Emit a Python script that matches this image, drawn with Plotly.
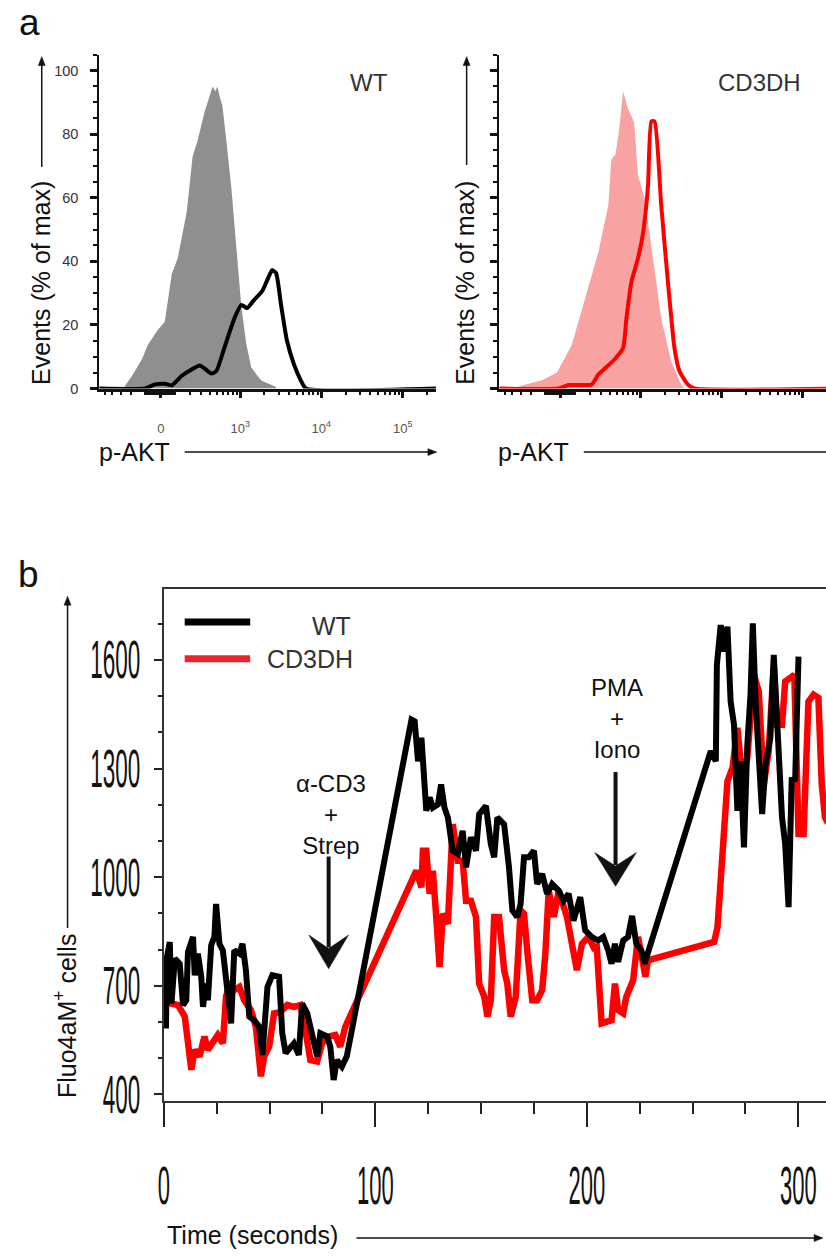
import numpy as np
import plotly.graph_objects as go

W, H = 826, 1259

# ---------------- Panel a : p-AKT histograms (intensity, % of max) ----------------
wt_iso_int = [-275, -194, -120, -80, -18, 24, 67, 106, 171, 219, 265, 337, 398, 437,
              478, 507, 556, 591, 665, 772, 895, 1029, 1190, 1372, 1819, 2782]
wt_iso_pct = [0, 4, 9.2, 13.8, 18.5, 21, 36, 41, 55.6, 73, 78, 87, 92, 95,
              93.5, 95, 91, 89, 78, 63, 44, 26, 14, 6.6, 2.5, 0.5]

wt_stim_int = [-600, -99, -36, 24, 67, 134, 211, 285, 337, 419, 492, 627, 841, 1029,
               1220, 1492, 1872, 2157, 2482, 2782, 3201, 3788, 4616, 5615, 6460, 262000]
wt_stim_pct = [0, 0, 1.3, 1.5, 1.0, 4, 6, 7.2, 6.3, 4.7, 5.5, 12.8, 22, 26.3,
               25.3, 27.9, 30.6, 34, 37.2, 36.3, 26.3, 15, 7.6, 2.5, 0, 0]

cd3dh_iso_int = [-400, -252, -120, -24, 67, 158, 272, 381, 419, 478, 529, 603, 700,
                 772, 835, 935, 1132, 1438, 1819, 2414, 3201, 3515]
cd3dh_iso_pct = [0, 1.3, 2.6, 5, 13.8, 28.4, 43, 57.6, 72, 73.7, 80.6, 93.5, 87.8,
                 85.7, 83.7, 67, 59.7, 41, 22, 8.6, 1.3, 0]

cd3dh_stim_int = [-600, -14, 47, 211, 272, 340, 467, 603, 665, 772, 935, 1082, 1247,
                  1372, 1506, 1819, 2200, 2649, 3050, 3862, 4650, 262000]
cd3dh_stim_pct = [0, 0, 1.1, 1.3, 4.5, 6.3, 9.2, 12.8, 22, 33.6, 41, 49, 63.8,
                  84, 84, 57.6, 33.6, 12.8, 5.5, 1.3, 0, 0]

pakt_major = [0, 1e3, 1e4, 1e5]
pakt_major_text = ["0", "10<sup>3</sup>", "10<sup>4</sup>", "10<sup>5</sup>"]
pakt_minor = ([-500, -400, -300, -200, -100] + list(range(-90, 0, 10)) + list(range(10, 100, 10))
              + list(range(200, 1000, 100)) + list(range(2000, 10000, 1000))
              + list(range(20000, 100000, 10000)) + [200000])
pct_ticks = [0, 20, 40, 60, 80, 100]
pct_minor = [5, 10, 15, 25, 30, 35, 45, 50, 55, 65, 70, 75, 85, 90, 95, 105]

# ---------------- Panel b : Fluo4aM+ cells over time ----------------
wt_time = [1.0, 1.5, 2.8, 3.6, 5.2, 7.5, 9.1, 10.6, 11.4, 13.8, 14.6, 16.1, 17.7, 18.5,
           20.0, 20.8, 22.4, 23.9, 24.7, 26.3, 27.9, 29.4, 31.8, 33.3, 35.7, 37.2, 38.8,
           40.4, 42.7, 45.1, 46.6, 49.0, 51.3, 54.5, 56.0, 57.6, 61.5, 63.8, 65.4, 67.8,
           70.1, 72.5, 74.0, 77.2, 78.7, 80.3, 81.8, 84.2, 86.5,
           117.1, 118.6, 120.2, 121.8, 123.3, 124.1, 125.7, 127.2, 129.6, 131.1, 132.7,
           134.3, 136.6, 139.0, 141.3, 142.9, 145.2, 147.6, 149.1, 152.3, 154.6, 156.2,
           157.7, 160.9, 163.2, 164.8, 167.1, 168.7, 170.3, 172.6, 175.0, 176.5, 178.9,
           181.2, 183.6, 186.7, 189.0, 191.4, 193.7, 196.9, 199.2, 202.3,
           205.4, 207.8, 210.1, 211.7, 213.3, 214.8, 217.2, 219.5, 221.4, 223.4, 225.8,
           227.3, 258.6, 261.0, 261.5, 263.3, 264.9, 266.5, 268.0, 269.6, 271.2, 272.7,
           274.3, 275.9, 277.4, 278.5, 279.8, 281.3, 282.9, 284.5, 286.8, 288.4, 289.9,
           292.3, 293.8, 295.4, 296.9, 298.5, 300.1]
wt_fluo = [582, 780, 821, 651, 775, 761, 647, 660, 793, 835, 729, 789, 725, 642,
           706, 660, 812, 835, 926, 816, 798, 725, 596, 798, 789, 816, 743,
           615, 605, 587, 509, 697, 729, 725, 569, 514, 541, 509, 651, 624,
           569, 505, 569, 560, 532, 440, 495, 477, 505,
           1435, 1430, 1320, 1385, 1238, 1183, 1220, 1192, 1201, 1256, 1192,
           1165, 1073, 1064, 1128, 1027, 1110, 1073, 1174, 1197, 1092, 1055,
           1165, 1146, 1027, 908, 890, 926, 1055, 1055, 1073, 981, 1009,
           954, 981, 963, 935, 954, 880, 945, 853, 835,
           825, 835, 798, 761, 816, 766, 825, 835, 893, 816, 798,
           761, 1348, 1320, 1586, 1696, 1623, 1692, 1485, 1421, 1183, 1320,
           1082, 1366, 1504, 1701, 1485, 1348, 1174, 1311, 1385, 1614, 1440,
           1165, 1092, 917, 1275, 1265, 1609]

cd3dh_time = [1.3, 3.6, 6.7, 9.9, 13.0, 14.6, 16.9, 19.2, 20.8, 23.2, 25.5, 27.9, 29.4,
              31.0, 33.3, 35.7, 38.0, 41.2, 43.5, 45.9, 47.4, 49.8, 52.1, 55.2, 58.4,
              61.5, 64.6, 66.9, 69.3, 72.5, 74.8, 77.9, 81.1, 83.4, 85.8,
              119.4, 121.8, 122.5, 124.1, 125.7, 127.2, 128.8, 130.4, 131.9, 134.3,
              136.6, 139.0, 141.3, 142.9, 145.2, 147.6, 149.1, 151.5, 153.0, 154.6,
              156.2, 158.5, 160.9, 162.4, 164.0, 166.4, 168.7, 170.3, 171.8, 174.2,
              176.5, 178.9, 180.4, 182.0, 184.4, 186.7, 190.6, 193.0, 195.3, 197.7,
              200.8, 203.9, 204.6, 207.0, 211.7, 213.3, 214.8, 217.2, 218.7, 221.9,
              224.2, 226.6, 227.7, 228.9, 260.2, 261.8, 263.3, 264.9, 266.5, 268.9,
              271.2, 273.5, 275.9, 279.0, 281.3, 283.7, 286.0, 288.4, 289.9, 292.3,
              293.8, 296.2, 298.1, 300.1, 302.5, 304.8, 307.2, 309.5, 311.1, 312.6, 314.0]
cd3dh_fluo = [706, 651, 647, 615, 468, 523, 505, 560, 523, 541, 564, 541, 670,
              702, 688, 697, 660, 633, 587, 450, 505, 532, 624, 628, 647,
              642, 647, 578, 495, 491, 541, 560, 564, 532, 587,
              1018, 972, 1073, 1073, 954, 1018, 890, 752, 899, 871,
              1146, 1045, 1045, 935, 935, 890, 706, 670, 615, 660,
              890, 890, 743, 706, 615, 670, 908, 899, 798, 660,
              660, 688, 789, 963, 890, 963, 890, 816, 743, 816,
              835, 798, 816, 596, 605, 706, 633, 624, 670, 715,
              835, 761, 725, 770, 821, 862, 999, 1119, 1265, 1302,
              1412, 1275, 1330, 1559, 1513, 1256, 1348, 1586, 1421, 1421,
              1540, 1550, 1559, 1119, 1119, 1485, 1504, 1495, 1256, 1165, 1150]

time_ticks = [0, 100, 200, 300]
time_minor = [25, 50, 75, 125, 150, 175, 225, 250, 275]
fluo_ticks = [400, 700, 1000, 1300, 1600]
fluo_minor = [500, 600, 800, 900, 1100, 1200, 1400, 1500, 1700]


def biex(v):
    """Biexponential-like (asinh) display transform used by the flow cytometry axis."""
    return np.arcsinh(np.asarray(v, dtype=float) / 214.0) / np.log(10)


def fx(p):
    return p / W


def fy(p):
    return 1 - p / H


FONT = "Liberation Sans, Arial, sans-serif"
GREY = "#8f8f8f"
PINK = "#f8a2a2"
RED = "#ff0000"

fig = go.Figure()

# panel a, WT
fig.add_trace(go.Scatter(x=biex(wt_iso_int), y=wt_iso_pct, mode="lines", fill="tozeroy",
                         fillcolor=GREY, line=dict(width=0, color=GREY),
                         xaxis="x", yaxis="y", showlegend=False, hoverinfo="skip"))
fig.add_trace(go.Scatter(x=biex(wt_stim_int), y=wt_stim_pct, mode="lines",
                         line=dict(color="#000000", width=4, shape="spline", smoothing=0.5),
                         xaxis="x", yaxis="y", showlegend=False, hoverinfo="skip"))
# panel a, CD3DH
fig.add_trace(go.Scatter(x=biex(cd3dh_iso_int), y=cd3dh_iso_pct, mode="lines", fill="tozeroy",
                         fillcolor=PINK, line=dict(width=0, color=PINK),
                         xaxis="x2", yaxis="y2", showlegend=False, hoverinfo="skip"))
fig.add_trace(go.Scatter(x=biex(cd3dh_stim_int), y=cd3dh_stim_pct, mode="lines",
                         line=dict(color=RED, width=4, shape="spline", smoothing=0.5),
                         xaxis="x2", yaxis="y2", showlegend=False, hoverinfo="skip"))
# panel b
fig.add_trace(go.Scatter(x=cd3dh_time, y=cd3dh_fluo, mode="lines",
                         line=dict(color=RED, width=6.5), xaxis="x3", yaxis="y3",
                         showlegend=False, hoverinfo="skip"))
fig.add_trace(go.Scatter(x=wt_time, y=wt_fluo, mode="lines",
                         line=dict(color="#000000", width=6), xaxis="x3", yaxis="y3",
                         showlegend=False, hoverinfo="skip"))

xa_flow = dict(showline=True, linecolor="#111", linewidth=2.5, ticks="outside",
               tickmode="array", tickvals=biex(pakt_major).tolist(), ticktext=pakt_major_text,
               ticklen=7, tickwidth=2.5, tickcolor="#111",
               tickfont=dict(family=FONT, size=13, color="#555"), ticklabelstandoff=19,
               minor=dict(tickmode="array", tickvals=biex(pakt_minor).tolist(), ticks="outside",
                          ticklen=4, tickwidth=1.5, tickcolor="#111"),
               showgrid=False, zeroline=False, fixedrange=True)
ya_flow = dict(showline=True, linecolor="#111", linewidth=2, ticks="outside",
               tickmode="array", tickvals=pct_ticks, ticklen=7, tickwidth=3, tickcolor="#111",
               tickfont=dict(family=FONT, size=14.5, color="#333"), ticklabelstandoff=9,
               minor=dict(tickmode="array", tickvals=pct_minor, ticks="outside",
                          ticklen=4, tickwidth=1.5, tickcolor="#111"),
               range=[0, 105], showgrid=False, zeroline=False, fixedrange=True)

fig.update_layout(
    width=W, height=H, margin=dict(l=0, r=0, t=0, b=0),
    paper_bgcolor="white", plot_bgcolor="white", showlegend=False,
    font=dict(family=FONT, color="#222"),
    xaxis=dict(xa_flow, domain=[fx(94), fx(433)], range=[-0.756, 3.378], anchor="y"),
    yaxis=dict(ya_flow, domain=[fy(391), fy(55)], anchor="x"),
    xaxis2=dict(xa_flow, domain=[fx(497), 1.0], range=[-0.756, 3.256], anchor="y2",
                showticklabels=False),
    yaxis2=dict(ya_flow, domain=[fy(391), fy(55)], anchor="x2", showticklabels=False),
    xaxis3=dict(domain=[fx(159), 1.0], range=[0, 313.1], anchor="y3",
                showline=True, mirror=True, linecolor="#333", linewidth=2,
                ticks="outside", tickmode="array", tickvals=time_ticks,
                ticklen=24, tickwidth=2, tickcolor="#222",
                tickfont=dict(family=FONT, size=22, color="#111"), ticklabelstandoff=40,
                minor=dict(tickmode="array", tickvals=time_minor, ticks="outside",
                           ticklen=11, tickwidth=1.5, tickcolor="#222"),
                showgrid=False, zeroline=False, fixedrange=True),
    yaxis3=dict(domain=[fy(1108), fy(593)], range=[382, 1795], anchor="x3",
                showline=True, linecolor="#333", linewidth=2,
                ticks="outside", tickmode="array", tickvals=fluo_ticks,
                ticklen=8, tickwidth=2, tickcolor="#222",
                tickfont=dict(family=FONT, size=22.5, color="#111"), ticklabelstandoff=9,
                minor=dict(tickmode="array", tickvals=fluo_minor, ticks="outside",
                           ticklen=4, tickwidth=1.5, tickcolor="#222"),
                showgrid=False, zeroline=False, fixedrange=True),
)

annotations = []
shapes = []


def text(t, x, y, size, xanchor="center", yanchor="middle", color="#222", angle=0):
    annotations.append(dict(text=t, x=fx(x), y=fy(y), xref="paper", yref="paper",
                            showarrow=False, xanchor=xanchor, yanchor=yanchor,
                            textangle=angle, font=dict(family=FONT, size=size, color=color)))


def arrow(hx, hy, tx, ty, width, head_len, head_w, notch=1.0, color="#111"):
    """Arrow drawn as a line plus a filled head (notch<1 gives a concave, stealth-like back)."""
    d = np.array([hx - tx, hy - ty], dtype=float)
    d /= np.hypot(*d)
    n = np.array([-d[1], d[0]])
    tip = np.array([hx, hy], dtype=float)
    back = tip - head_len * d
    left = back + n * head_w / 2
    right = back - n * head_w / 2
    mid = tip - notch * head_len * d
    end = tip - (notch * head_len + 1) * d if notch < 1 else back + 0.5 * d
    shapes.append(dict(type="line", xref="paper", yref="paper",
                       x0=fx(tx), y0=fy(ty), x1=fx(end[0]), y1=fy(end[1]),
                       line=dict(color=color, width=width)))
    pts = [tip, left, mid, right]
    path = "M " + " L ".join(f"{fx(p[0]):.5f},{fy(p[1]):.5f}" for p in pts) + " Z"
    shapes.append(dict(type="path", xref="paper", yref="paper", path=path,
                       fillcolor=color, line=dict(color=color, width=0.5)))


# panel letters
text("a", 11, 0, 37, xanchor="left", yanchor="top", color="#111")
text("b", 10, 578, 37, xanchor="left", color="#111")
# panel a labels
text("WT", 366, 83, 24, color="#333")
text("CD3DH", 759, 83, 24, color="#333")
text("Events (% of max)", 35, 285, 25, angle=-90, color="#111")
text("Events (% of max)", 463, 285, 25, angle=-90, color="#111")
arrow(36, 57, 36, 168, 1.5, 9, 7)
arrow(464, 57, 464, 166, 1.5, 9, 7)
text("p-AKT", 92, 455, 25, xanchor="left", color="#111")
text("p-AKT", 494, 455, 25, xanchor="left", color="#111")
arrow(434, 455, 180, 455, 1.5, 9, 7)
shapes.append(dict(type="line", xref="paper", yref="paper", x0=fx(582), x1=fx(830),
                   y0=fy(455), y1=fy(455), line=dict(color="#111", width=1.5)))
# panel b labels
shapes.append(dict(type="line", xref="paper", yref="paper", x0=fx(180), x1=fx(246),
                   y0=fy(626), y1=fy(626), line=dict(color="#000", width=7)))
shapes.append(dict(type="line", xref="paper", yref="paper", x0=fx(180), x1=fx(246),
                   y0=fy(663), y1=fy(663), line=dict(color="#e8262b", width=7)))
text("WT", 328, 630, 25, color="#333")
text("CD3DH", 306, 663, 25, color="#333")
text("α-CD3<br>+<br>Strep", 327, 820, 24, color="#111")
arrow(325, 975, 325, 862, 4, 34, 40, notch=0.6)
text("PMA<br>+<br>Iono", 615, 723, 24, color="#111")
arrow(614, 892, 614, 777, 4, 34, 42, notch=0.6)
text("Fluo4aM<sup>+</sup> cells", 60, 1023, 25, angle=-90, color="#111")
arrow(62, 600, 62, 934, 1.5, 9, 7)
text("Time (seconds)", 160, 1243, 25, xanchor="left", color="#111")
arrow(823, 1246, 353, 1246, 1.5, 9, 7)

fig.update_layout(annotations=annotations, shapes=shapes)

post = """
document.body.style.margin = '0';
var gd = document.getElementById('{plot_id}');
function stretch(sel, sy) {
  var els = gd.querySelectorAll(sel);
  for (var i = 0; i < els.length; i++) {
    var t = els[i];
    try {
      var bb = t.getBBox();
      var cx = bb.x + bb.width / 2, cy = bb.y + bb.height / 2;
      var tr = t.getAttribute('transform') || '';
      t.setAttribute('transform', tr + ' translate(' + cx + ',' + cy + ') scale(1,' + sy + ') translate(' + (-cx) + ',' + (-cy) + ')');
    } catch (e) {}
  }
}
stretch('g.x3tick text', 2.4);
stretch('g.y3tick text', 2.4);
"""

fig.write_html("out.html", post_script=post, config={"displayModeBar": False})
